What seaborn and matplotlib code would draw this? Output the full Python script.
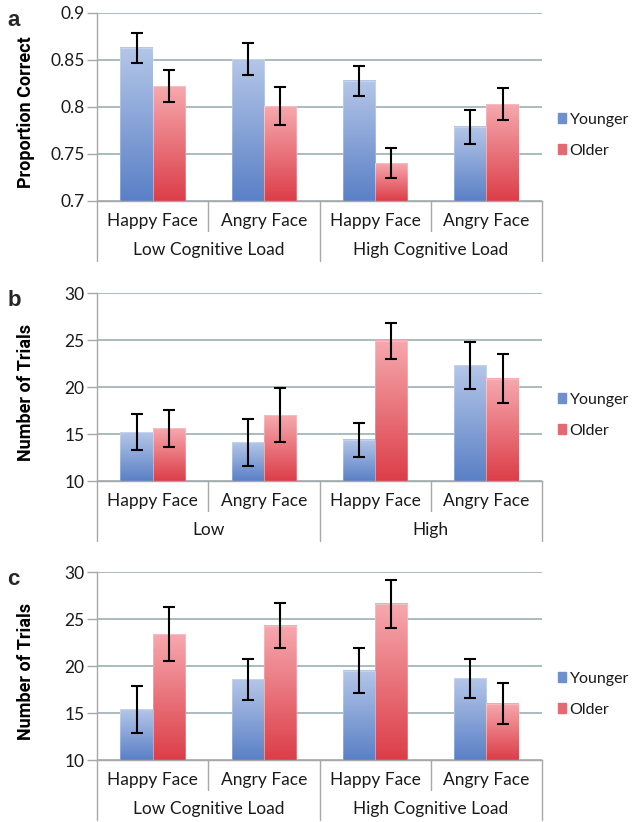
import numpy as np
import pandas as pd
import matplotlib
matplotlib.use("Agg")
import matplotlib.pyplot as plt
import matplotlib.colors as mcolors
import seaborn as sns

# data
load = ["Low", "Low", "High", "High"]
face = ["Happy Face", "Angry Face", "Happy Face", "Angry Face"]
groups = ["Younger", "Older"]

acc_young = [0.863, 0.851, 0.828, 0.779]
acc_old = [0.822, 0.801, 0.740, 0.803]
acc_young_err = [0.016, 0.017, 0.016, 0.018]
acc_old_err = [0.017, 0.020, 0.016, 0.017]

b_young = [15.2, 14.1, 14.4, 22.3]
b_old = [15.6, 17.0, 24.9, 20.9]
b_young_err = [1.9, 2.5, 1.8, 2.5]
b_old_err = [2.0, 2.9, 1.9, 2.6]

c_young = [15.4, 18.6, 19.5, 18.7]
c_old = [23.4, 24.3, 26.6, 16.0]
c_young_err = [2.5, 2.2, 2.4, 2.1]
c_old_err = [2.9, 2.4, 2.6, 2.2]

group_labels_ac = ["Low Cognitive Load", "High Cognitive Load"]
group_labels_b = ["Low", "High"]

sns.set_theme(style="white")
plt.rcParams['font.family'] = ['Lato', 'DejaVu Sans']

blue_top, blue_bot = "#b4c6e8", "#5a80c6"
red_top, red_bot = "#f6a8ae", "#dc3e48"
grid_col = "#a3b6ba"
line_col = "#a8a8a8"
text_col = "#1a1a1a"

fig = plt.figure(figsize=(6.34, 8.22), dpi=100)


def make_df(young, old, yerr, oerr):
    rows = []
    for i in range(4):
        rows.append({"cond": i, "group": "Younger", "val": young[i], "err": yerr[i]})
        rows.append({"cond": i, "group": "Older", "val": old[i], "err": oerr[i]})
    return pd.DataFrame(rows)


def panel(rect, young, old, yerr, oerr, ylim, ticks, ticklabels, ylabel, glabels, letter):
    ax = fig.add_axes(rect)
    df = make_df(young, old, yerr, oerr)
    sns.barplot(data=df, x="cond", y="val", hue="group", hue_order=groups,
                palette=[blue_bot, red_bot], width=0.58, errorbar=None, ax=ax,
                legend=False)
    ax.set_ylim(*ylim)
    ax.set_xlim(-0.5, 3.5)

    # gradient fill + error bars per patch
    for k, p in enumerate(ax.patches):
        x0, w, h = p.get_x(), p.get_width(), p.get_height()
        gi = 0 if k < 4 else 1
        ci = k % 4
        top, bot = (blue_top, blue_bot) if gi == 0 else (red_top, red_bot)
        cmap = mcolors.LinearSegmentedColormap.from_list("g", [bot, top])
        grad = np.linspace(0, 1, 100).reshape(-1, 1)
        ax.imshow(grad, extent=[x0, x0 + w, ylim[0], h], origin="lower",
                  aspect="auto", cmap=cmap, zorder=2)
        p.set_facecolor("none")
        p.set_edgecolor((1, 1, 1, 0.35))
        p.set_linewidth(0.5)
        p.set_zorder(2.5)
        err = (yerr if gi == 0 else oerr)[ci]
        ax.errorbar(x0 + w / 2, h, yerr=err, fmt="none", ecolor="black",
                    elinewidth=1.5, capsize=4, capthick=1.5, zorder=4)
    ax.set_ylim(*ylim)
    ax.set_xlim(-0.5, 3.5)

    ax.set_yticks(ticks)
    ax.set_yticklabels(ticklabels, fontsize=12.5, color=text_col)
    ax.yaxis.grid(True, color=grid_col, linewidth=1.3)
    ax.set_axisbelow(True)
    ax.tick_params(axis="y", length=7, width=1, color=line_col, pad=2, left=True)
    ax.tick_params(axis="x", bottom=False, labelbottom=False)
    ax.set_xlabel("")
    ax.set_ylabel(ylabel, fontsize=13, fontweight="bold", color="black",
                  family=["Roboto", "DejaVu Sans"])
    ax.yaxis.set_label_coords(-0.14, 0.47)
    for s in ["top", "right"]:
        ax.spines[s].set_visible(False)
    ax.spines["left"].set_color(line_col)
    ax.spines["bottom"].set_color(line_col)
    ax.spines["left"].set_linewidth(1)
    ax.spines["bottom"].set_linewidth(1)

    # category table under the axis
    tr = ax.get_xaxis_transform()
    r1, r2 = -0.106, -0.262
    for i in range(4):
        ax.text(i, r1, face[i], transform=tr, ha="center", va="center",
                fontsize=12.5, color=text_col)
    for j, g in enumerate(glabels):
        ax.text(0.5 + 2 * j, r2, g, transform=tr, ha="center", va="center",
                fontsize=12.5, color=text_col)
    for xs, depth in [(-0.5, -0.32), (0.5, -0.16), (1.5, -0.32), (2.5, -0.16), (3.5, -0.32)]:
        ax.plot([xs, xs], [0, depth], transform=tr, color=line_col,
                linewidth=1, clip_on=False)

    handles = [plt.Rectangle((0, 0), 1, 1, color="#6f90cc"),
               plt.Rectangle((0, 0), 1, 1, color="#e46a72")]
    leg = ax.legend(handles, groups, loc="center left", bbox_to_anchor=(1.035, 0.35),
                    frameon=False, fontsize=11.5, handlelength=0.55, handleheight=0.55,
                    handletextpad=0.2, labelspacing=1.05, borderaxespad=0,
                    borderpad=0)
    for t in leg.get_texts():
        t.set_color(text_col)

    fig.text(0.012, rect[1] + rect[3] + 0.004, letter, fontsize=16,
             fontweight="bold", va="top", family=["Liberation Sans", "DejaVu Sans"])
    return ax


left, width, height = 0.153, 0.702, 0.2287
panel([left, 0.7555, width, height], acc_young, acc_old, acc_young_err, acc_old_err,
      (0.7, 0.9), [0.7, 0.75, 0.8, 0.85, 0.9], ["0.7", "0.75", "0.8", "0.85", "0.9"],
      "Proportion Correct", group_labels_ac, "a")
panel([left, 0.4148, width, height], b_young, b_old, b_young_err, b_old_err,
      (10, 30), [10, 15, 20, 25, 30], ["10", "15", "20", "25", "30"],
      "Number of Trials", group_labels_b, "b")
panel([left, 0.0754, width, height], c_young, c_old, c_young_err, c_old_err,
      (10, 30), [10, 15, 20, 25, 30], ["10", "15", "20", "25", "30"],
      "Number of Trials", group_labels_ac, "c")

fig.savefig("out.png", dpi=100)
